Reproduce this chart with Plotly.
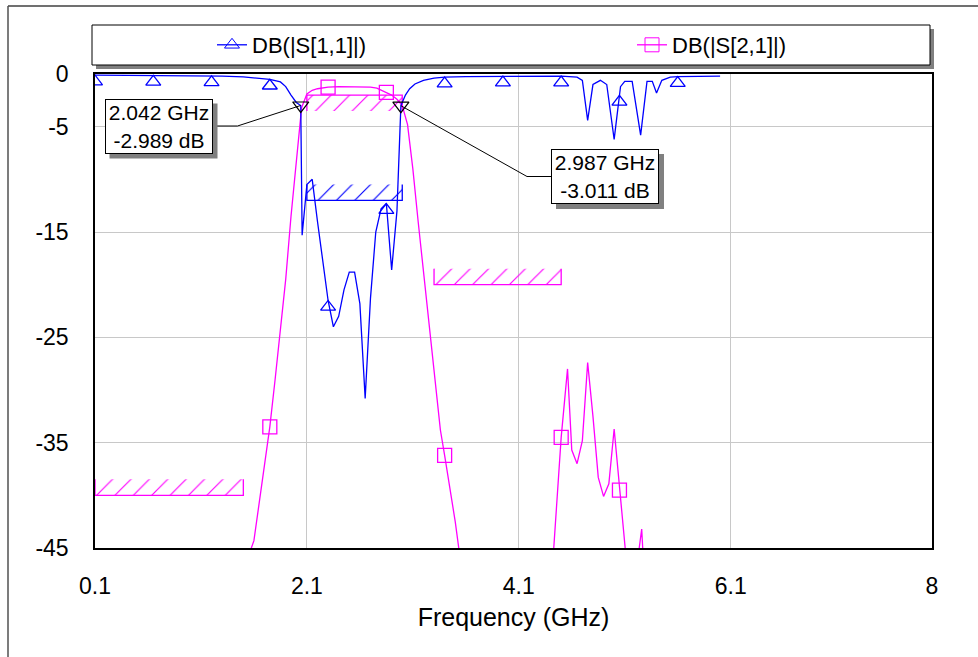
import numpy as np
import plotly.graph_objects as go

# ---------------- data ----------------
s11_freq = [0.1, 0.5, 1.0, 1.3, 1.5, 1.65, 1.75, 1.85, 1.9, 1.95, 2.0, 2.042, 2.055,
            2.1, 2.15, 2.2, 2.25, 2.3, 2.35, 2.4, 2.45, 2.5, 2.55, 2.6, 2.65, 2.7,
            2.75, 2.8, 2.85, 2.9, 2.95, 2.97, 2.987, 3.03, 3.07, 3.12, 3.2, 3.3,
            3.4, 3.6, 4.0, 4.5, 4.65, 4.7, 4.75, 4.8, 4.87, 4.93, 5.0, 5.06, 5.1,
            5.17, 5.25, 5.31, 5.36, 5.4, 5.45, 5.53, 5.6, 6.0]
s11_db = [-0.1, -0.12, -0.15, -0.2, -0.28, -0.4, -0.5, -0.75, -1.2, -2.0, -2.7, -2.989, -15.3,
          -10.5, -10.0, -14.0, -18.0, -21.5, -24.0, -23.0, -20.5, -18.8, -18.8, -21.8, -30.8, -21.3,
          -15.0, -12.8, -12.3, -18.6, -13.0, -7.5, -3.011, -2.0, -1.4, -0.95, -0.6, -0.4,
          -0.3, -0.25, -0.2, -0.2, -0.3, -0.6, -4.4, -1.0, -0.6, -1.0, -6.2, -1.2, -0.7,
          -0.7, -5.8, -0.7, -0.7, -1.8, -0.6, -0.3, -0.25, -0.2]

s21_freq = [0.1, 0.5, 1.0, 1.4, 1.6, 1.75, 1.8, 1.85, 1.9, 1.95, 2.0, 2.05, 2.1, 2.15,
            2.2, 2.3, 2.4, 2.5, 2.6, 2.7, 2.76, 2.84, 2.9, 2.95, 3.0, 3.05, 3.1, 3.15,
            3.2, 3.25, 3.3, 3.36, 3.4, 3.5, 3.6, 4.0, 4.3, 4.43, 4.5, 4.56, 4.6, 4.65,
            4.7, 4.75, 4.8, 4.85, 4.9, 4.95, 5.0, 5.05, 5.1, 5.15, 5.2, 5.23, 5.26,
            5.28, 5.35, 6.0]
s21_db = [-70, -65, -58, -50, -44.3, -33.5, -29.0, -24.5, -19.5, -13.5, -8.5, -3.2, -1.9, -1.55,
          -1.4, -1.25, -1.2, -1.2, -1.2, -1.25, -1.35, -1.7, -2.0, -2.4, -3.0, -4.8, -9.0, -14.0,
          -18.8, -23.5, -28.5, -33.8, -36.2, -42.5, -50, -65, -55, -45, -34.5, -28.0, -35.7, -37.0,
          -34.8, -27.4, -32.5, -38.3, -40.1, -38.9, -33.7, -39.5, -45.2, -50, -47, -45.5, -43.2,
          -47, -55, -60]

marker_freq = [0.1, 0.65, 1.2, 1.75, 2.3, 2.85, 3.4, 3.95, 4.5, 5.05, 5.6]

# measurement markers (freq GHz, dB) on S11
meas_freq = [2.042, 2.987]
meas_db = [-2.989, -3.011]

# spec limits
lim_f0 = [2.1, 2.1, 3.3, 0.1]
lim_f1 = [3.0, 3.0, 4.5, 1.5]
lim_db = [-12.0, -2.0, -20.0, -40.0]
lim_trace = ["S11", "S21", "S21", "S21"]
lim_kind = ["max", "min", "max", "max"]

x_ticks = [0.1, 2.1, 4.1, 6.1, 8]
y_ticks = [0, -5, -15, -25, -35, -45]
y_tick_text = ["0", "-5", "-15", "-25", "-35", "-45"]

series_names = ["DB(|S[1,1]|)", "DB(|S[2,1]|)"]

# ---------------- layout constants ----------------
W, H = 978, 657
ML, MR, MT, MB = 95, 46, 74, 109
PW, PH = W - ML - MR, H - MT - MB
XMIN, XMAX = 0.1, 8.0
YMIN, YMAX = -45.0, 0.0
DB_PER_PX = (YMAX - YMIN) / PH
FONT = "Liberation Sans, Arial, sans-serif"
BLUE = "#0000ff"
MAG = "#ff00ff"
HATCH_DEPTH = 16 * DB_PER_PX


def pxx(px):
    return (px - ML) / PW


def pxy(py):
    return (H - MB - py) / PH


def data_px(f, v):
    return ML + (f - XMIN) / (XMAX - XMIN) * PW, MT + (YMAX - v) / (YMAX - YMIN) * PH


fig = go.Figure()

colors = {"S11": BLUE, "S21": MAG}

# hatched spec regions
for f0, f1, lv, tr, kind in zip(lim_f0, lim_f1, lim_db, lim_trace, lim_kind):
    c = colors[tr]
    edge = lv + HATCH_DEPTH if kind == "max" else lv - HATCH_DEPTH
    fig.add_trace(go.Scatter(
        x=[f0, f0, f1, f1, f0], y=[lv, edge, edge, lv, lv], mode="lines",
        fill="toself", line=dict(width=0), fillcolor="rgba(0,0,0,0)",
        fillpattern=dict(shape="/", fgcolor=c, bgcolor="rgba(0,0,0,0)",
                         fillmode="replace", size=13, solidity=0.09),
        showlegend=False, hoverinfo="skip"))
    fig.add_trace(go.Scatter(
        x=[f0, f0, f1, f1], y=[edge, lv, lv, edge], mode="lines",
        line=dict(color=c, width=1.3), showlegend=False, hoverinfo="skip"))

# curves
fig.add_trace(go.Scatter(x=s21_freq, y=s21_db, mode="lines",
                         line=dict(color=MAG, width=1.3), showlegend=False))
fig.add_trace(go.Scatter(x=s11_freq, y=s11_db, mode="lines",
                         line=dict(color=BLUE, width=1.3), showlegend=False))

# curve markers
tri_size = 13
sq_size = 14
s11_m = np.interp(marker_freq, s11_freq, s11_db) - (tri_size / 2) * DB_PER_PX
s21_m = np.interp(marker_freq, s21_freq, s21_db)
fig.add_trace(go.Scatter(x=marker_freq, y=s11_m, mode="markers",
                         marker=dict(symbol="triangle-up-open", size=tri_size, color=BLUE,
                                     line=dict(width=1.3)),
                         showlegend=False))
fig.add_trace(go.Scatter(x=marker_freq, y=s21_m, mode="markers",
                         marker=dict(symbol="square-open", size=sq_size, color=MAG,
                                     line=dict(width=1.3)),
                         showlegend=False))

# measurement markers
fig.add_trace(go.Scatter(x=meas_freq, y=meas_db, mode="markers",
                         marker=dict(symbol="triangle-down-open", size=14, color="black",
                                     line=dict(width=1.2)),
                         showlegend=False))

# legend entries (one legend each so they sit at the reference positions)
fig.add_trace(go.Scatter(x=[None], y=[None], mode="lines+markers", name=series_names[0],
                         line=dict(color=BLUE, width=1.3), legend="legend",
                         marker=dict(symbol="triangle-up-open", size=tri_size, color=BLUE)))
fig.add_trace(go.Scatter(x=[None], y=[None], mode="lines+markers", name=series_names[1],
                         line=dict(color=MAG, width=1.3), legend="legend2",
                         marker=dict(symbol="square-open", size=sq_size, color=MAG)))

shapes = []
# outer frame lines
shapes.append(dict(type="line", xref="paper", yref="paper", x0=pxx(8), y0=pxy(6),
                   x1=pxx(W + 5), y1=pxy(6), line=dict(color="#707070", width=2)))
shapes.append(dict(type="line", xref="paper", yref="paper", x0=pxx(8), y0=pxy(6),
                   x1=pxx(8), y1=pxy(H + 5), line=dict(color="#505050", width=1.5)))
# legend box with shadow
LB = (92, 25, 930, 65)
shapes.append(dict(type="rect", xref="paper", yref="paper", x0=pxx(LB[0] + 4), y0=pxy(LB[1] + 4),
                   x1=pxx(LB[2] + 4), y1=pxy(LB[3] + 4), fillcolor="#808080",
                   line=dict(width=0), layer="below"))
shapes.append(dict(type="rect", xref="paper", yref="paper", x0=pxx(LB[0]), y0=pxy(LB[1]),
                   x1=pxx(LB[2]), y1=pxy(LB[3]), fillcolor="white",
                   line=dict(color="black", width=1), layer="below"))

# measurement label boxes
box_centers = [(158.5, 126), (605, 176.5)]
bend_dx = [25, -24]
BW, BH = 108, 55
annotations = []
for (f, v), (cx, cy), bdx in zip(zip(meas_freq, meas_db), box_centers, bend_dx):
    px, py = data_px(f, v)
    edge_x = cx + BW / 2 if bdx > 0 else cx - BW / 2
    bend_x = edge_x + bdx
    shapes.append(dict(type="line", xref="paper", yref="paper", x0=pxx(edge_x), y0=pxy(cy),
                       x1=pxx(bend_x), y1=pxy(cy), line=dict(color="black", width=1)))
    shapes.append(dict(type="line", xref="paper", yref="paper", x0=pxx(bend_x), y0=pxy(cy),
                       x1=pxx(px), y1=pxy(py), line=dict(color="black", width=1)))
    shapes.append(dict(type="rect", xref="paper", yref="paper",
                       x0=pxx(cx - BW / 2 + 5), y0=pxy(cy - BH / 2 + 5),
                       x1=pxx(cx + BW / 2 + 5), y1=pxy(cy + BH / 2 + 5),
                       fillcolor="#808080", line=dict(width=0)))
    annotations.append(dict(xref="paper", yref="paper", x=pxx(cx), y=pxy(cy),
                            text=f"{f:.3f} GHz<br>{v:.3f} dB", showarrow=False,
                            width=BW - 6, height=BH - 6, borderpad=2,
                            bgcolor="white", bordercolor="black", borderwidth=1,
                            font=dict(family=FONT, size=21, color="black"),
                            xanchor="center", yanchor="middle", align="center"))

leg_common = dict(orientation="v", yanchor="middle", xanchor="left",
                  font=dict(family=FONT, size=22, color="black"),
                  bgcolor="rgba(0,0,0,0)", borderwidth=0)

fig.update_layout(
    width=W, height=H,
    margin=dict(l=ML, r=MR, t=MT, b=MB, pad=0),
    paper_bgcolor="white", plot_bgcolor="white",
    font=dict(family=FONT, color="black"),
    shapes=shapes, annotations=annotations,
    showlegend=True,
    legend=dict(x=pxx(212), y=pxy(45), **leg_common),
    legend2=dict(x=pxx(632), y=pxy(45), **leg_common),
    xaxis=dict(range=[XMIN, XMAX], tickvals=x_ticks, ticktext=[f"{t:g}" for t in x_ticks],
               showgrid=True, gridcolor="#c8c8c8", gridwidth=1, zeroline=False,
               showline=True, linecolor="black", linewidth=1.5, mirror=True,
               ticks="", ticklabelstandoff=17,
               tickfont=dict(family=FONT, size=23, color="black"),
               title=dict(text="Frequency (GHz)", standoff=10,
                          font=dict(family=FONT, size=25, color="black"))),
    yaxis=dict(range=[YMIN, YMAX], tickvals=y_ticks, ticktext=y_tick_text,
               showgrid=True, gridcolor="#c8c8c8", gridwidth=1, zeroline=False,
               showline=True, linecolor="black", linewidth=1.5, mirror=True,
               ticks="", ticklabelstandoff=20,
               tickfont=dict(family=FONT, size=23, color="black")),
)

fig.write_html("out.html")
